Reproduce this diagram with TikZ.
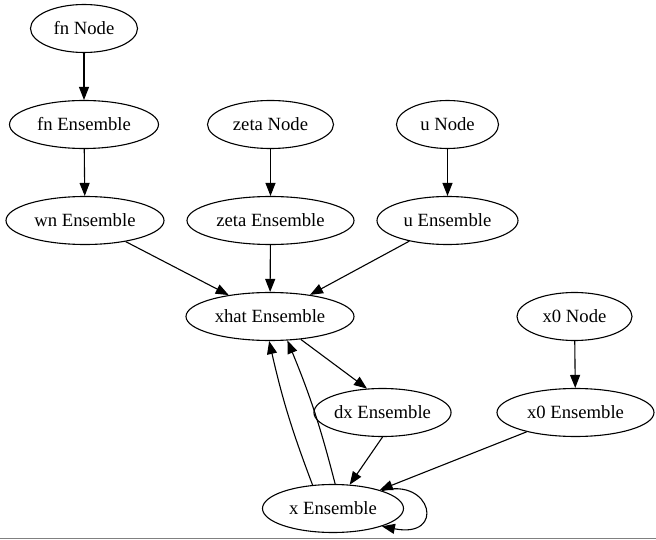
\documentclass[tikz,border=0pt]{standalone}
\usepackage{fontspec}
\setmainfont{Liberation Serif}
\usetikzlibrary{shapes.geometric, arrows.meta}
\definecolor{mydark}{RGB}{0,0,0}
\definecolor{myrule}{RGB}{128,128,128}
\tikzset{
  gnode/.style={ellipse, draw=mydark, fill=white,
    minimum height=48pt, inner sep=0pt,
    font=\fontsize{18.67}{22}\selectfont, line width=1.1pt},
  arrow/.style={-{Triangle[length=13pt,width=10pt]}, line width=1.1pt, color=mydark}
}
\begin{document}
\begin{tikzpicture}[x=1pt,y=1pt]
  \useasboundingbox (0,0) rectangle (656,539);
  % sources and their ensembles
  \node[gnode, minimum width=107pt] (fnnode) at (84,510.5) {fn Node};
  \node[gnode, minimum width=149pt] (fnens) at (84,414.5) {fn Ensemble};
  \node[gnode, minimum width=158pt] (wnens) at (85,318.5) {wn Ensemble};
  \node[gnode, minimum width=126pt] (zetanode) at (270.5,414.5) {zeta Node};
  \node[gnode, minimum width=167pt] (zetaens) at (270.5,318.5) {zeta Ensemble};
  \node[gnode, minimum width=102pt] (unode) at (447.5,414.5) {u Node};
  \node[gnode, minimum width=141pt] (uens) at (447.5,318.5) {u Ensemble};
  \node[gnode, minimum width=168pt] (xhat) at (270,222.5) {xhat Ensemble};
  \node[gnode, minimum width=115pt] (x0node) at (574.5,222.5) {x0 Node};
  \node[gnode, minimum width=157pt] (x0ens) at (575.5,126.5) {x0 Ensemble};
  \node[gnode, minimum width=125pt] (dxens) at (382.5,126.5) {dx Ensemble};
  \node[gnode, minimum width=141pt] (xens) at (333,30.5) {x Ensemble};

  \draw[arrow] (fnnode) -- (fnens);
  \draw[arrow] (fnens) -- (wnens);
  \draw[arrow] (zetanode) -- (zetaens);
  \draw[arrow] (unode) -- (uens);
  \draw[arrow] (wnens) -- (xhat);
  \draw[arrow] (zetaens) -- (xhat);
  \draw[arrow] (uens) -- (xhat);
  \draw[arrow] (xhat) -- (dxens.123);
  \draw[arrow] (x0node) -- (x0ens);
  \draw[arrow] (dxens.south) -- (xens.55);
  \draw[arrow] (x0ens) -- (xens);
  % feedback into xhat
  \draw[arrow] (xens.131) to[bend left=4] (xhat.-92);
  \draw[arrow] (xens.85) to[bend right=4] (xhat.-54);
  \draw[arrow] (xens.20) .. controls (432,62) and (446,0) .. (xens.-20);

  \draw[myrule, line width=1pt] (0,0.5) -- (656,0.5);
\end{tikzpicture}
\end{document}
